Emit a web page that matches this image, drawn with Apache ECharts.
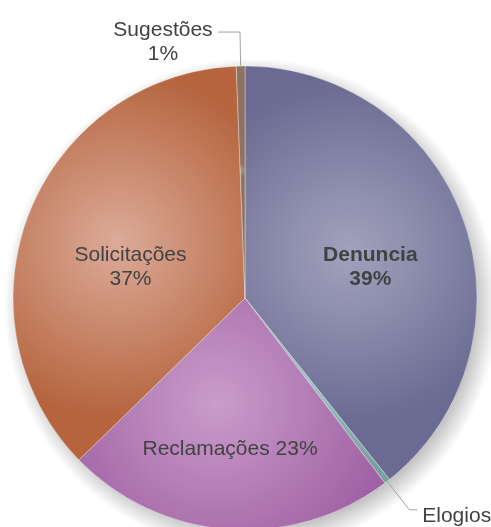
<!DOCTYPE html>
<html>
<head>
<meta charset="utf-8">
<script src="https://cdn.jsdelivr.net/npm/echarts@6/dist/echarts.min.js"></script>
<style>
  html, body { margin: 0; padding: 0; background: #fff; }
  #main { width: 491px; height: 527px; }
</style>
</head>
<body>
<div id="main"></div>
<script>
// categorias e percentuais (sentido horário a partir do topo)
var categorias = ['Denuncia', 'Elogios', 'Reclamações', 'Solicitações', 'Sugestões'];
var valores = [39.3, 0.4, 23.0, 36.7, 0.6];

// cores: claro / escuro de cada fatia
var corClara = ['#a2a2bd', '#9cc2c2', '#ca9cca', '#dcab99', '#b09a8c'];
var corEscura = ['#6a6a92', '#78a0a0', '#a062a4', '#b5643e', '#8c7262'];

// ajuste fino dos rótulos
var ajuste = { 0: [13, 8], 1: [0, 6], 2: [-6, 33], 3: [-4, 13], 4: [0, 10] };

var myChart = echarts.init(document.getElementById('main'));

var dados = [];
for (var i = 0; i < categorias.length; i++) {
    var item = {
        name: categorias[i],
        value: valores[i],
        itemStyle: {
            color: {
                type: 'radial', x: 0.45, y: 0.45, r: 0.75,
                colorStops: [
                    { offset: 0, color: corClara[i] },
                    { offset: 1, color: corEscura[i] }
                ]
            }
        }
    };
    if (categorias[i] == 'Denuncia') {
        item.label = { position: 'inside', fontWeight: 'bold', formatter: '{b}\n{d}%' };
    } else if (categorias[i] == 'Reclamações') {
        item.label = { position: 'inside', formatter: '{b} {d}%' };
    } else if (categorias[i] == 'Solicitações') {
        item.label = { position: 'inside', formatter: '{b}\n{d}%' };
    } else if (categorias[i] == 'Sugestões') {
        item.label = { position: 'outside', formatter: '{c|{b}}\n{c|{d}%}' };
        item.labelLine = { show: true, length: 34, length2: 22 };
    } else {
        item.label = { position: 'outside', formatter: '{b}' };
        item.labelLine = { show: true, length: 36, length2: 8 };
    }
    dados.push(item);
}

var option = {
    animation: false,
    // sombra difusa por baixo da pizza
    graphic: [{
        type: 'circle',
        silent: true,
        z: -10,
        shape: { cx: 251, cy: 305, r: 247 },
        style: {
            fill: {
                type: 'radial', x: 0.5, y: 0.5, r: 0.5,
                colorStops: [
                    { offset: 0, color: 'rgba(0,0,0,0.3)' },
                    { offset: 0.9, color: 'rgba(0,0,0,0.25)' },
                    { offset: 1, color: 'rgba(0,0,0,0)' }
                ]
            }
        }
    }],
    series: [
        {
            type: 'pie',
            left: 0,
            top: 0,
            width: 600,
            center: [245, 298],
            radius: 232,
            startAngle: 90,
            clockwise: true,
            avoidLabelOverlap: false,
            label: {
                show: true,
                color: '#424242',
                fontFamily: 'Liberation Sans, Arial, sans-serif',
                fontSize: 21,
                lineHeight: 24,
                overflow: 'none',
                bleedMargin: 0,
                rich: {
                    c: {
                        width: 100,
                        align: 'center',
                        color: '#424242',
                        fontFamily: 'Liberation Sans, Arial, sans-serif',
                        fontSize: 21,
                        lineHeight: 24
                    }
                }
            },
            labelLine: {
                lineStyle: { color: '#a0a0a0', width: 1 },
                smooth: false
            },
            labelLayout: function (params) {
                var a = ajuste[params.dataIndex];
                if (a) return { dx: a[0], dy: a[1] };
                return {};
            },
            itemStyle: {
                borderColor: 'rgba(255,255,255,0.35)',
                borderWidth: 1
            },
            emphasis: { disabled: true },
            data: dados
        }
    ]
};

// percentuais arredondados como no Excel
for (var j = 0; j < dados.length; j++) {
    var f = dados[j].label.formatter;
    dados[j].label.formatter = (function (fmt) {
        return function (p) {
            return fmt.replace('{b}', p.name).replace('{d}', Math.round(p.percent));
        };
    })(f);
}

myChart.setOption(option);
</script>
</body>
</html>
